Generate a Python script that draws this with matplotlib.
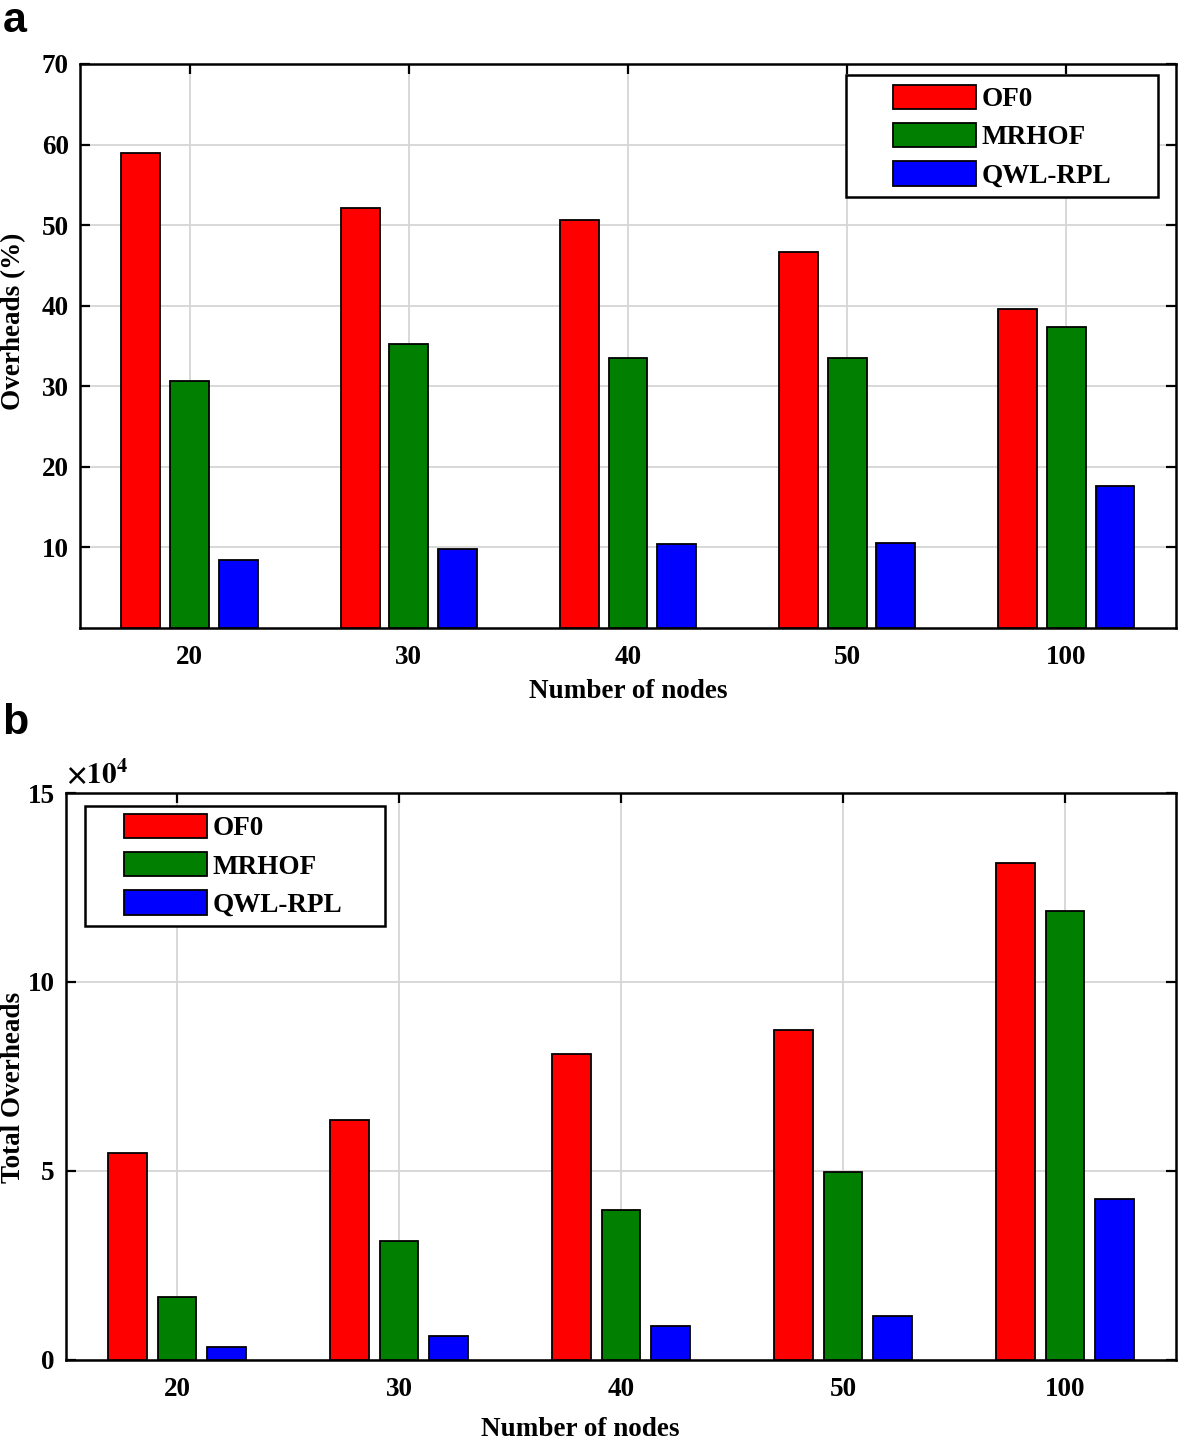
#!/usr/bin/env python

import matplotlib
matplotlib.use("Agg")
import matplotlib.pyplot as plt
import numpy as np
from matplotlib.patches import Rectangle
from matplotlib.ticker import FuncFormatter

plt.rcParams["font.family"] = ["Liberation Serif", "DejaVu Serif"]
plt.rcParams["font.weight"] = "bold"
plt.rcParams["axes.labelweight"] = "bold"
plt.rcParams["mathtext.fontset"] = "stix"

nodes = ["20", "30", "40", "50", "100"]
series = ["OF0", "MRHOF", "QWL-RPL"]
colors = ["#ff0000", "#007f00", "#0000ff"]

# panel a: overheads (%)
of0_pct = [58.9, 52.1, 50.6, 46.7, 39.6]
mrhof_pct = [30.6, 35.3, 33.5, 33.5, 37.3]
qwl_pct = [8.4, 9.8, 10.4, 10.6, 17.6]

# panel b: total overheads
of0_tot = [54800, 63500, 81000, 87300, 131500]
mrhof_tot = [16700, 31500, 39700, 49700, 118800]
qwl_tot = [3400, 6300, 9000, 11600, 42600]

FS = 19.5


def style_axes(ax):
    ax.set_xlim(0.5, 5.5)
    ax.set_xticks(np.arange(1, 6))
    ax.set_xticklabels(nodes)
    ax.grid(True, color="#d6d6d6", lw=1.3)
    ax.set_axisbelow(True)
    for s in ax.spines.values():
        s.set_linewidth(1.8)
    ax.tick_params(direction="in", length=7, width=1.6, top=True, right=True,
                   labelsize=FS)
    ax.tick_params(axis="x", pad=12)
    ax.tick_params(axis="y", pad=8)


def draw_bars(ax, groups, width=0.177, offset=0.222):
    x = np.arange(1, 6)
    handles = []
    for k, (vals, col) in enumerate(zip(groups, colors)):
        h = ax.bar(x + (k - 1) * offset, vals, width, color=col,
                   edgecolor="black", linewidth=1.3, zorder=3)
        handles.append(h)
    return handles


def add_legend(ax, handles, box, anchor):
    ax.add_patch(Rectangle(box[:2], box[2], box[3], transform=ax.transAxes,
                           facecolor="white", edgecolor="black", lw=1.8,
                           zorder=5))
    leg = ax.legend(handles, series, loc="upper left", bbox_to_anchor=anchor,
                    frameon=False, borderpad=0, borderaxespad=0, fontsize=FS,
                    handlelength=3.05, handleheight=1.0, handletextpad=0.22,
                    labelspacing=0.4)
    leg.set_zorder(6)


def main():
    fig = plt.figure(figsize=(11.81, 14.4), dpi=100)

    ax1 = fig.add_axes([0.0677, 0.5639, 0.9281, 0.3917])
    h1 = draw_bars(ax1, [of0_pct, mrhof_pct, qwl_pct])
    style_axes(ax1)
    ax1.set_ylim(0, 70)
    ax1.set_yticks(np.arange(10, 71, 10))
    ax1.set_xlabel("Number of nodes", fontsize=FS, labelpad=7)
    ax1.set_ylabel("Overheads (%)", fontsize=FS)
    ax1.yaxis.set_label_coords(-0.049, 0.543)
    add_legend(ax1, h1, (0.699, 0.764, 0.2846, 0.2165), (0.7418, 0.963))

    ax2 = fig.add_axes([0.0559, 0.0556, 0.9399, 0.3937])
    h2 = draw_bars(ax2, [of0_tot, mrhof_tot, qwl_tot], width=0.175, offset=0.222)
    style_axes(ax2)
    ax2.set_ylim(0, 150000)
    ax2.set_yticks([0, 50000, 100000, 150000])
    ax2.yaxis.set_major_formatter(FuncFormatter(lambda v, p: f"{v / 1e4:g}"))
    ax2.set_xlabel("Number of nodes", fontsize=FS)
    ax2.xaxis.set_label_coords(0.463, -0.1)
    ax2.set_ylabel("Total Overheads", fontsize=FS)
    ax2.yaxis.set_label_coords(-0.036, 0.4815)
    ax2.text(0.0, 1.005, r"$\times10^{4}$", transform=ax2.transAxes,
             fontsize=21, fontweight="normal", ha="left", va="bottom")
    add_legend(ax2, h2, (0.0171, 0.7654, 0.2703, 0.2116), (0.0523, 0.963))

    fig.text(0.002, 0.999, "a", fontsize=31, fontweight="bold",
             family="Liberation Sans", ha="left", va="top")
    fig.text(0.002, 0.512, "b", fontsize=31, fontweight="bold",
             family="Liberation Sans", ha="left", va="top")

    fig.savefig("out.png", dpi=100)


if __name__ == "__main__":
    main()
